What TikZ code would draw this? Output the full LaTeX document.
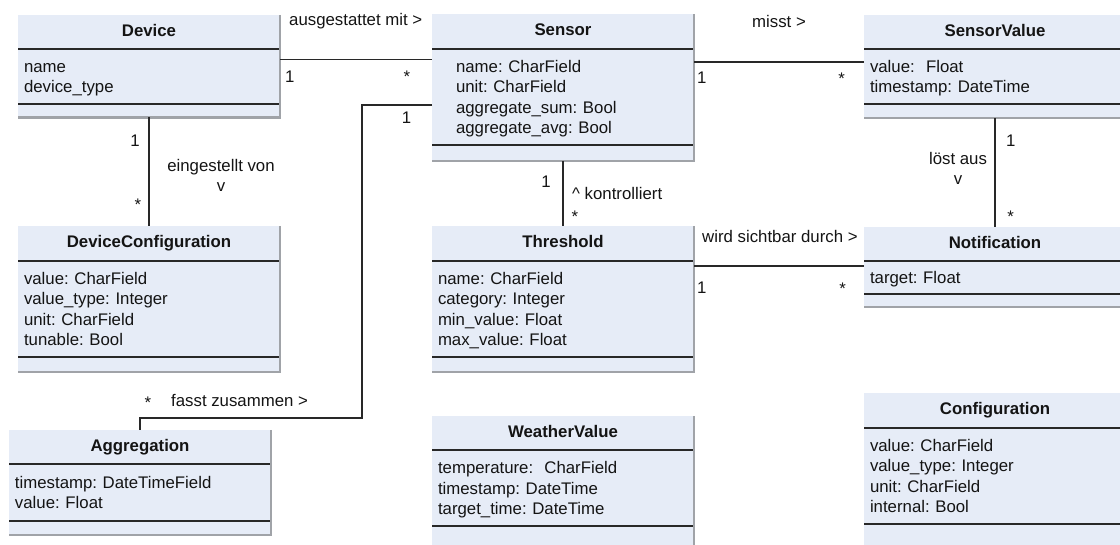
\documentclass[tikz,border=0pt]{standalone}
\usepackage{fontspec}
\setmainfont{Liberation Sans}
\frenchspacing
\usetikzlibrary{positioning}
\definecolor{boxfill}{RGB}{230,236,247}
\definecolor{edgegray}{RGB}{160,163,168}
\definecolor{sepcol}{RGB}{40,40,40}
\definecolor{textcol}{RGB}{20,20,20}
\newcommand{\umlfont}{\fontsize{16.8pt}{20.6pt}\selectfont}
\newcommand{\topstrut}{\rule{0pt}{16.4pt}}
\newcommand{\botstrut}{\rule[-4.2pt]{0pt}{4.2pt}}
\tikzset{
  classhead/.style={fill=boxfill, minimum width=262pt, inner sep=0pt, outer sep=0pt, font=\umlfont\bfseries, text=textcol},
  classattr/.style={fill=boxfill, text width=250pt, inner xsep=6pt, inner ysep=0pt, outer sep=0pt, align=left, font=\umlfont, text=textcol},
  classfoot/.style={fill=boxfill, minimum width=262pt, inner sep=0pt, outer sep=0pt},
  sepline/.style={draw=sepcol, line width=1.2pt},
  classedge/.style={draw=edgegray, line width=2.5pt},
  assoc/.style={draw=sepcol, line width=1.3pt},
  lbl/.style={font=\umlfont, inner sep=0pt, text=textcol}
}
% [indent]{id}{north west}{title}{attributes}{head h}{attr h}{foot h}
\newcommand{\umlclass}[8][0pt]{%
  \node[classhead, minimum height=#6pt, anchor=north west] (#2) at (#3) {\strut #4};
  \node[classattr, minimum height=#7pt, below=0pt of #2] (#2-attr) {\leftskip=#1 \topstrut #5\botstrut\par};
  \node[classfoot, minimum height=#8pt, below=0pt of #2-attr] (#2-foot) {};
  \draw[sepline] (#2.south west) -- (#2.south east);
  \draw[sepline] (#2-attr.south west) -- (#2-attr.south east);
  \draw[classedge] (#2.north east) -- (#2-foot.south east) -- (#2-foot.south west);
}

\begin{document}
\begin{tikzpicture}[x=1pt, y=-1pt]
\useasboundingbox (0,0) rectangle (1120,545);
\clip (0,0) rectangle (1120,545);

% classes
\umlclass{device}{18,15}{Device}{name\\device\_type}{34}{55}{13.5}
\umlclass[18pt]{sensor}{432,14}{Sensor}{name: CharField\\unit: CharField\\aggregate\_sum: Bool\\aggregate\_avg: Bool}{35}{96}{16}
\umlclass{sensorvalue}{864,15}{SensorValue}{value:\ \ Float\\timestamp: DateTime}{34}{55}{14}
\umlclass{devconf}{18,226}{DeviceConfiguration}{value: CharField\\value\_type: Integer\\unit: CharField\\tunable: Bool}{35}{96}{15}
\umlclass{threshold}{432,226}{Threshold}{name: CharField\\category: Integer\\min\_value: Float\\max\_value: Float}{35}{96}{15}
\umlclass{notification}{864,227}{Notification}{target: Float}{34}{33}{13}
\umlclass{aggregation}{9,430}{Aggregation}{timestamp: DateTimeField\\value: Float}{34}{57}{14}
\umlclass{weather}{432,416}{WeatherValue}{temperature:\ \ CharField\\timestamp: DateTime\\target\_time: DateTime}{34}{76}{22}
\umlclass{config}{864,393}{Configuration}{value: CharField\\value\_type: Integer\\unit: CharField\\internal: Bool}{35}{96}{22}

% associations
\draw[assoc] ([yshift=-10.5pt]device-attr.north east) -- ([yshift=-10.5pt]device-attr.north east -| sensor-attr.west);
\draw[assoc] ([yshift=-13pt]sensor-attr.north east) -- ([yshift=-13pt]sensor-attr.north east -| sensorvalue-attr.west);
\draw[assoc] ([yshift=-56pt]sensor-attr.north west) -- ++(-70,0) |- ([yshift=12pt]aggregation.north) -- (aggregation.north);
\draw[assoc] (device-foot.south) -- (devconf.north);
\draw[assoc] (sensor-foot.south) -- (threshold.north);
\draw[assoc] (sensorvalue-foot.south) -- (notification.north);
\draw[assoc] ([yshift=-5pt]threshold-attr.north east) -- ([yshift=-5pt]threshold-attr.north east -| notification-attr.west);

% labels
\node[lbl, anchor=base west] (equip) at (289,26) {ausgestattet mit >};
\node[lbl, anchor=base west] (equip-a) at (285,83) {1};
\node[lbl, anchor=base] (equip-b) at (407,83) {*};
\node[lbl, anchor=base] (aggr-a) at (406.5,124) {1};
\node[lbl, anchor=base] (aggr-b) at (148,409) {*};
\node[lbl, anchor=base west] (aggr) at (171,407) {fasst zusammen >};
\node[lbl, anchor=base] (conf-a) at (135,147) {1};
\node[lbl, anchor=base] (conf-b) at (138,211) {*};
\node[lbl, align=center] (conf) at (221,175.5) {eingestellt von\\v};
\node[lbl, anchor=base west] (meas) at (752,28) {misst >};
\node[lbl, anchor=base] (meas-a) at (701.7,84) {1};
\node[lbl, anchor=base] (meas-b) at (841.7,84.5) {*};
\node[lbl, anchor=base] (ctrl-a) at (546,188) {1};
\node[lbl, anchor=base west] (ctrl) at (572,200) {\textasciicircum{} kontrolliert};
\node[lbl, anchor=base] (ctrl-b) at (575,222.5) {*};
\node[lbl, anchor=base] (trig-a) at (1010.7,146.7) {1};
\node[lbl, anchor=base] (trig-b) at (1010.7,223) {*};
\node[lbl, align=center] (trig) at (958,168.4) {löst aus\\v};
\node[lbl, anchor=base west] (vis) at (702,243) {wird sichtbar durch >};
\node[lbl, anchor=base] (vis-a) at (701.7,294) {1};
\node[lbl, anchor=base] (vis-b) at (842.7,294.7) {*};
\end{tikzpicture}
\end{document}
